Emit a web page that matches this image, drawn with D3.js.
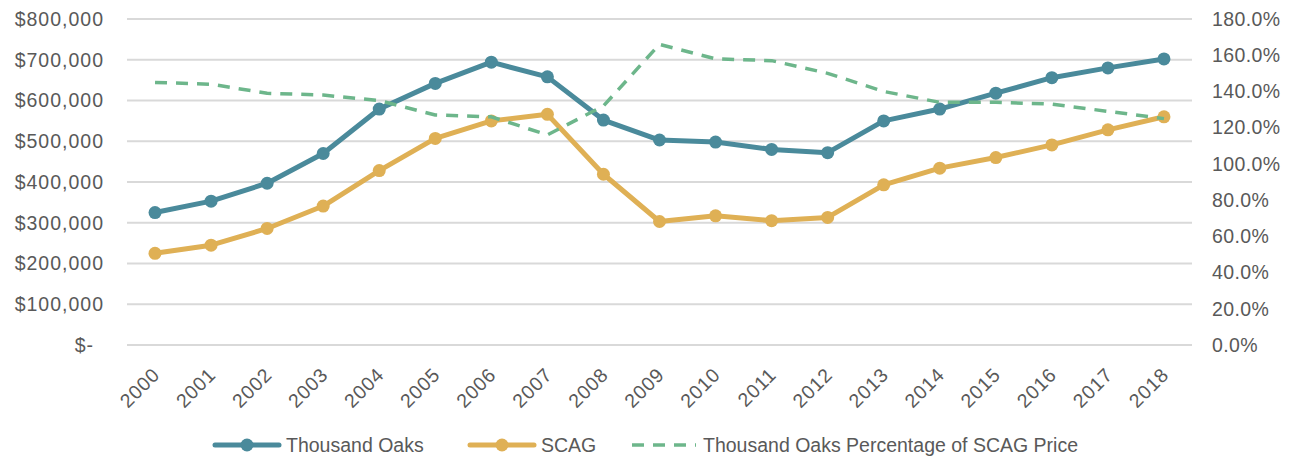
<!DOCTYPE html>
<html>
<head>
<meta charset="utf-8">
<script src="https://cdn.jsdelivr.net/npm/d3@7"></script>
<style>
  body { margin: 0; background: #fff; }
  svg { display: block; }
</style>
</head>
<body>
<svg id="chart" width="1294" height="458"></svg>
<script>
// donnees
const years = ["2000","2001","2002","2003","2004","2005","2006","2007","2008","2009",
  "2010","2011","2012","2013","2014","2015","2016","2017","2018"];
const thousandOaks = [325000, 353000, 397000, 470000, 579000, 642000, 694000, 658000, 552000, 503000,
  498000, 480000, 472000, 550000, 579000, 618000, 656000, 680000, 702000];
const scag = [225000, 245000, 286000, 341000, 428000, 507000, 550000, 566000, 419000, 303000,
  317000, 305000, 313000, 393000, 434000, 460000, 491000, 528000, 560000];
const pctOfScag = [1.45, 1.44, 1.39, 1.38, 1.35, 1.27, 1.26, 1.16, 1.32, 1.66,
  1.58, 1.57, 1.50, 1.40, 1.34, 1.34, 1.33, 1.29, 1.25];
const leftTicks = [0, 100000, 200000, 300000, 400000, 500000, 600000, 700000, 800000];
const rightTicks = [0, 0.2, 0.4, 0.6, 0.8, 1.0, 1.2, 1.4, 1.6, 1.8];
const seriesNames = ["Thousand Oaks", "SCAG", "Thousand Oaks Percentage of SCAG Price"];

const teal = "#4a8a9b", gold = "#dfb055", green = "#6db68b";
const txt = "#595959";
const numFont = "Liberation Sans, Arial, sans-serif";

const plotLeft = 127, plotRight = 1192, plotTop = 19, plotBottom = 345;

const svg = d3.select("#chart");

const x = d3.scalePoint().domain(years).range([plotLeft, plotRight]).padding(0.5);
const y = d3.scaleLinear().domain([0, 800000]).range([plotBottom, plotTop]);
const y2 = d3.scaleLinear().domain([0, 1.8]).range([plotBottom, plotTop]);

// grille
svg.append("g")
  .selectAll("line")
  .data(leftTicks)
  .join("line")
  .attr("x1", plotLeft).attr("x2", plotRight)
  .attr("y1", d => y(d)).attr("y2", d => y(d))
  .attr("stroke", "#d9d9d9")
  .attr("stroke-width", 2);

// axe gauche
const fmtMoney = d => d === 0 ? "$-" : "$" + d3.format(",")(d);
svg.append("g")
  .attr("transform", `translate(${plotLeft - 23},0)`)
  .call(d3.axisLeft(y).tickValues(leftTicks).tickFormat(fmtMoney).tickSize(0).tickPadding(0))
  .call(g => g.select(".domain").remove())
  .selectAll("text")
  .attr("fill", txt)
  .attr("font-family", numFont)
  .attr("font-size", "19.5px")
  .attr("letter-spacing", "1px")
  .attr("dx", d => d === 0 ? -10 : 0);

// axe droit
svg.append("g")
  .attr("transform", `translate(${plotRight + 20},0)`)
  .call(d3.axisRight(y2).tickValues(rightTicks).tickFormat(d3.format(".1%")).tickSize(0).tickPadding(0))
  .call(g => g.select(".domain").remove())
  .selectAll("text")
  .attr("fill", txt)
  .attr("font-family", numFont)
  .attr("font-size", "19.5px")
  .attr("letter-spacing", "0.4px");

// axe x (etiquettes inclinees)
svg.append("g")
  .selectAll("text")
  .data(years)
  .join("text")
  .attr("transform", d => `translate(${x(d) + 6},${plotBottom + 31}) rotate(-45)`)
  .attr("text-anchor", "end")
  .attr("fill", txt)
  .attr("font-family", numFont)
  .attr("font-size", "19.5px")
  .attr("letter-spacing", "0.8px")
  .text(d => d);

// lignes
const lineMoney = d3.line().x((d, i) => x(years[i])).y(d => y(d));
const linePct = d3.line().x((d, i) => x(years[i])).y(d => y2(d));

function drawSeries(values, color) {
  svg.append("path")
    .datum(values)
    .attr("d", lineMoney)
    .attr("fill", "none")
    .attr("stroke", color)
    .attr("stroke-width", 5)
    .attr("stroke-linejoin", "round")
    .attr("stroke-linecap", "round");
  svg.append("g")
    .selectAll("circle")
    .data(values)
    .join("circle")
    .attr("cx", (d, i) => x(years[i]))
    .attr("cy", d => y(d))
    .attr("r", 6.5)
    .attr("fill", color);
}
drawSeries(thousandOaks, teal);
drawSeries(scag, gold);

svg.append("path")
  .datum(pctOfScag)
  .attr("d", linePct)
  .attr("fill", "none")
  .attr("stroke", green)
  .attr("stroke-width", 3.5)
  .attr("stroke-dasharray", "12,9")
  .attr("stroke-linejoin", "round");

// legende
const legY = 445;
const legend = [
  { name: seriesNames[0], color: teal, x0: 215, dash: false },
  { name: seriesNames[1], color: gold, x0: 470, dash: false },
  { name: seriesNames[2], color: green, x0: 632, dash: true }
];
const lg = svg.append("g").selectAll("g").data(legend).join("g");
lg.append("line")
  .attr("x1", d => d.x0).attr("x2", d => d.x0 + 64)
  .attr("y1", legY).attr("y2", legY)
  .attr("stroke", d => d.color)
  .attr("stroke-width", d => d.dash ? 3.5 : 5)
  .attr("stroke-dasharray", d => d.dash ? "12,9" : null)
  .attr("stroke-linecap", d => d.dash ? "butt" : "round");
lg.filter(d => !d.dash).append("circle")
  .attr("cx", d => d.x0 + 32).attr("cy", legY).attr("r", 6.5)
  .attr("fill", d => d.color);
lg.append("text")
  .attr("x", d => d.x0 + 71).attr("y", legY + 7)
  .attr("fill", txt)
  .attr("font-family", "Liberation Sans, Arial, sans-serif")
  .attr("font-size", "19.5px")
  .text(d => d.name);
</script>
</body>
</html>
